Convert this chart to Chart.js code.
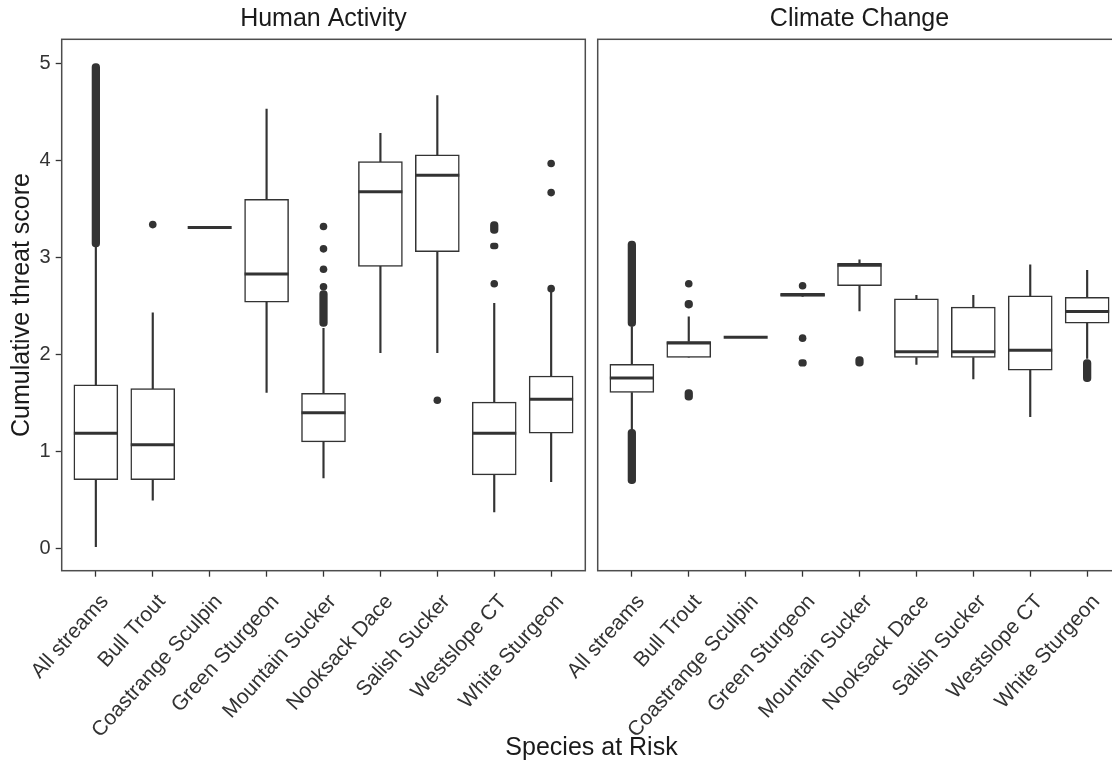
<!DOCTYPE html>
<html>
<head>
<meta charset="utf-8">
<script src="https://cdn.jsdelivr.net/npm/chart.js@4.4.1/dist/chart.umd.min.js"></script>
<style>
  html, body { margin: 0; padding: 0; background: #fff; overflow: hidden; }
  #wrap { position: relative; width: 1112px; height: 761px; overflow: hidden; }
  #left { position: absolute; left: 0; top: 0; }
  #right { position: absolute; left: 520px; top: 0; }
  #xtitle { position: absolute; left: 0; width: 1183px; top: 734px; text-align: center;
            font: 25px/25px "Liberation Sans", Arial, sans-serif; color: #1a1a1a; }
</style>
</head>
<body>
<div id="wrap">
  <canvas id="left" width="592" height="761"></canvas>
  <canvas id="right" width="610" height="761"></canvas>
  <div id="xtitle">Species at Risk</div>
</div>
<script>
// categories
var species = ["All streams", "Bull Trout", "Coastrange Sculpin", "Green Sturgeon", "Mountain Sucker",
               "Nooksack Dace", "Salish Sucker", "Westslope CT", "White Sturgeon"];
var yTicks = [0, 1, 2, 3, 4, 5];

// HUMAN ACTIVITY - box plot stats
var humanLow    = [0.02, 0.50, 3.31, 1.61, 0.73, 2.02, 2.02, 0.38, 0.69];
var humanQ1     = [0.71, 0.71, 3.31, 2.54, 1.10, 2.91, 3.06, 0.76, 1.19];
var humanMedian = [1.19, 1.07, 3.31, 2.83, 1.40, 3.68, 3.85, 1.19, 1.54];
var humanQ3     = [1.69, 1.65, 3.31, 3.60, 1.60, 3.99, 4.06, 1.51, 1.78];
var humanHigh   = [3.11, 2.43, 3.31, 4.53, 2.27, 4.28, 4.67, 2.53, 2.68];
// single outliers [species index, value]
var humanOutliers = [[1, 3.34], [4, 3.32], [4, 3.09], [4, 2.88], [4, 2.70], [6, 1.53],
                     [7, 2.73], [8, 2.68], [8, 3.67], [8, 3.97]];
// runs of overlapping outliers [species index, from, to]
var humanOutlierRuns = [[0, 3.11, 5.00], [4, 2.29, 2.66], [7, 3.25, 3.37], [7, 3.09, 3.15]];

// CLIMATE CHANGE
var climateLow    = [1.23, 1.97, 2.18, 2.60, 2.45, 1.90, 1.75, 1.36, 1.96];
var climateQ1     = [1.61, 1.97, 2.18, 2.60, 2.71, 1.97, 1.97, 1.84, 2.325];
var climateMedian = [1.76, 2.12, 2.18, 2.62, 2.92, 2.03, 2.03, 2.045, 2.445];
var climateQ3     = [1.90, 2.135, 2.18, 2.63, 2.94, 2.575, 2.49, 2.605, 2.59];
var climateHigh   = [2.29, 2.39, 2.18, 2.63, 2.976, 2.61, 2.61, 2.925, 2.87];
var climateOutliers = [[1, 2.73], [3, 2.71], [3, 2.17]];
var climateOutlierRuns = [[0, 2.29, 3.17], [0, 0.67, 1.23], [1, 2.48, 2.56], [1, 1.53, 1.64],
                          [3, 1.88, 1.95], [4, 1.88, 1.98], [8, 1.72, 1.95]];

var INK = "#333333";
var FONT = "'Liberation Sans', Arial, sans-serif";

// rectangle round each panel
var panelBorder = {
    id: "panelBorder",
    afterDatasetsDraw: function (chart) {
        var a = chart.chartArea, c = chart.ctx;
        c.save();
        c.strokeStyle = "#4d4d4d";
        c.lineWidth = 1.5;
        c.strokeRect(a.left, a.top, a.right - a.left, a.bottom - a.top);
        c.restore();
    }
};

function pairs(a, b) {
    return a.map(function (v, i) { return { x: i, y: [v, b[i]] }; });
}

function makeDatasets(low, q1, med, q3, high, outliers, runs) {
    return [
        {
            type: "scatter", // medians as short thick lines
            data: med.map(function (v, i) { return { x: i, y: v }; }),
            pointStyle: "line",
            pointRadius: 22,
            pointBorderWidth: 3,
            pointBorderColor: INK,
        },
        {
            type: "scatter",
            data: outliers.map(function (o) { return { x: o[0], y: o[1] }; }),
            pointRadius: 3.8,
            pointBorderWidth: 0,
            pointBackgroundColor: INK,
        },
        {
            type: "bar",
            data: runs.map(function (r) { return { x: r[0], y: [r[1], r[2]] }; }),
            backgroundColor: INK,
            barThickness: 7.6,
            borderRadius: 4,
            borderSkipped: false,
            grouped: false,
        },
        {
            type: "bar", // boxes
            data: pairs(q1, q3),
            backgroundColor: "#ffffff",
            borderColor: INK,
            borderWidth: 1.5,
            borderSkipped: false,
            barThickness: 44,
            grouped: false,
        },
        {
            type: "bar", // lower whiskers
            data: pairs(low, q1),
            backgroundColor: INK,
            barThickness: 1.5,
            grouped: false,
        },
        {
            type: "bar", // upper whiskers
            data: pairs(q3, high),
            backgroundColor: INK,
            barThickness: 1.5,
            grouped: false,
        },
    ];
}

function noPadding() {
    return { left: 0, right: 0, top: 0, bottom: 0 };
}

function makeChart(id, title, datasets, showY, padding) {
    var ctx = document.getElementById(id).getContext("2d");
    return new Chart(ctx, {
        type: "bar",
        data: { datasets: datasets },
        plugins: [panelBorder],
        options: {
            responsive: false,
            animation: false,
            layout: { padding: padding, autoPadding: false },
            plugins: {
                legend: { display: false },
                tooltip: { enabled: false },
                title: {
                    display: true,
                    text: title,
                    fullSize: false,
                    color: "#1a1a1a",
                    font: { family: FONT, size: 25, weight: "normal", lineHeight: 1.2 },
                    padding: { top: 4, bottom: 5.3 },
                },
            },
            scales: {
                x: {
                    type: "linear",
                    offset: false,
                    min: -0.6,
                    max: 8.6,
                    afterBuildTicks: function (axis) {
                        axis.ticks = species.map(function (s, i) { return { value: i }; });
                    },
                    afterFit: function (axis) {
                        axis.height = 190.3;
                        // rotated labels must not push the panel inwards
                        axis.paddingLeft = 0;
                        axis.paddingRight = 0;
                        axis.getPadding = noPadding;
                    },
                    ticks: {
                        autoSkip: false,
                        minRotation: 48,
                        maxRotation: 48,
                        padding: 13,
                        labelOffset: 9,
                        color: INK,
                        font: { family: FONT, size: 21 },
                        callback: function (v) { return species[v]; },
                    },
                    grid: { display: true, drawOnChartArea: false, offset: false, tickLength: 6, tickColor: INK, tickWidth: 1.3 },
                    border: { display: false },
                },
                y: {
                    display: showY,
                    min: -0.227,
                    max: 5.25,
                    afterBuildTicks: function (axis) {
                        axis.ticks = yTicks.map(function (v) { return { value: v }; });
                    },
                    afterFit: function (axis) { if (showY) axis.width = 61.7; },
                    ticks: { color: INK, padding: 5, font: { family: FONT, size: 20 } },
                    grid: { display: true, drawOnChartArea: false, tickLength: 6, tickColor: INK, tickWidth: 1.3 },
                    border: { display: false },
                    title: {
                        display: true,
                        text: "Cumulative threat score",
                        color: "#1a1a1a",
                        font: { family: FONT, size: 25, lineHeight: 1.2 },
                        padding: { top: 7, bottom: 0 },
                    },
                },
            },
        },
    });
}

makeChart("left", "Human Activity",
    makeDatasets(humanLow, humanQ1, humanMedian, humanQ3, humanHigh, humanOutliers, humanOutlierRuns),
    true, { left: 0, right: 6.7, top: 0, bottom: 0 });

makeChart("right", "Climate Change",
    makeDatasets(climateLow, climateQ1, climateMedian, climateQ3, climateHigh, climateOutliers, climateOutlierRuns),
    false, { left: 77.7, right: 8.7, top: 0, bottom: 0 });
</script>
</body>
</html>
